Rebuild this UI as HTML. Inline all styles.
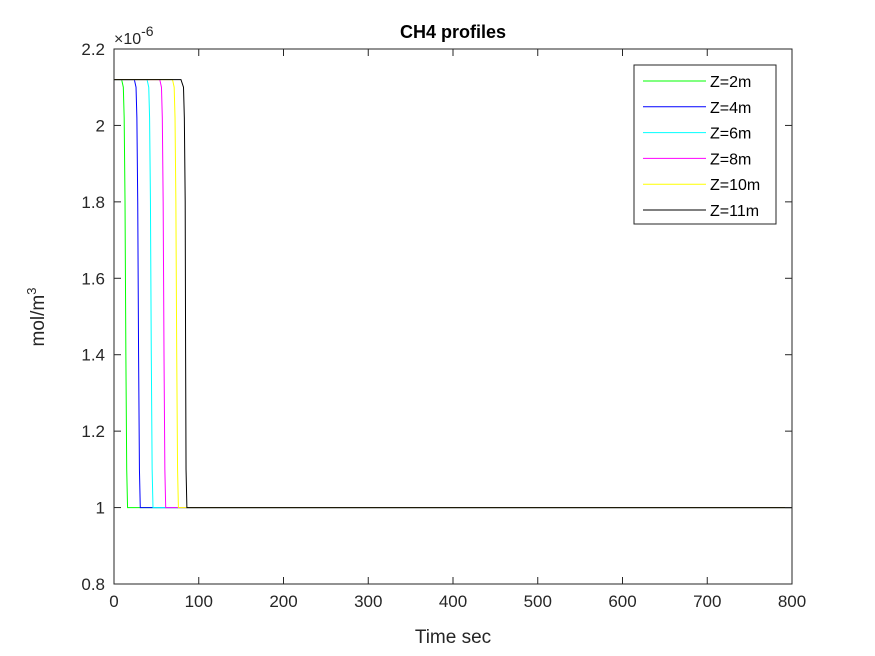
<!DOCTYPE html>
<html><head><meta charset="utf-8"><style>
body{margin:0;background:#fff}
svg{display:block;font-family:"Liberation Sans",sans-serif}
</style></head><body>
<svg width="875" height="656" viewBox="0 0 875 656">
<rect width="875" height="656" fill="#fff"/>
<g id="plot"></g>
<g id="axes"></g>
<text x="453" y="38" font-size="18" font-weight="bold" text-anchor="middle">CH4 profiles</text>
<text x="453" y="643" font-size="19" text-anchor="middle" fill="#262626">Time sec</text>
<text transform="translate(44,317) rotate(-90)" font-size="19" text-anchor="middle" fill="#262626">mol/m<tspan dy="-8" font-size="13">3</tspan></text>
<text x="114" y="44" font-size="16" fill="#262626">×10<tspan dy="-8" font-size="14">-6</tspan></text>
<g id="legend"></g>
</svg>
<script>
const xTicks=[0,100,200,300,400,500,600,700,800];
const yTicks=[0.8,1,1.2,1.4,1.6,1.8,2,2.2];
const yTickLabels=["0.8","1","1.2","1.4","1.6","1.8","2","2.2"];
const seriesNames=["Z=2m","Z=4m","Z=6m","Z=8m","Z=10m","Z=11m"];
const seriesColors=["#00ff00","#0000ff","#00ffff","#ff00ff","#ffff00","#000000"];
const tZ2=[0,9,11,12,13,14,15,16,800];const vZ2=[2.12,2.12,2.1,2.02,1.8,1.4,1.1,1.0,1.0];
const tZ4=[0,24,26,27,28,29,30,31,800];const vZ4=[2.12,2.12,2.1,2.02,1.8,1.4,1.1,1.0,1.0];
const tZ6=[0,39,41,42,43,44,45,46,800];const vZ6=[2.12,2.12,2.1,2.02,1.8,1.4,1.1,1.0,1.0];
const tZ8=[0,54,56,57,58,59,60,61,800];const vZ8=[2.12,2.12,2.1,2.02,1.8,1.4,1.1,1.0,1.0];
const tZ10=[0,69,71,72,73,74,75,76,800];const vZ10=[2.12,2.12,2.1,2.02,1.8,1.4,1.1,1.0,1.0];
const tZ11=[0,79,82,83,84,84.5,85,86,800];const vZ11=[2.12,2.12,2.1,2.02,1.8,1.4,1.1,1.0,1.0];
const seriesT=[tZ2,tZ4,tZ6,tZ8,tZ10,tZ11];
const seriesV=[vZ2,vZ4,vZ6,vZ8,vZ10,vZ11];
const L=114,R=792,T=49,B=584;
const xs=v=>L+(v-0)/800*(R-L);
const ys=v=>B-(v-0.8)/1.4*(B-T);
const NS="http://www.w3.org/2000/svg";
const plot=document.getElementById('plot'),axes=document.getElementById('axes'),leg=document.getElementById('legend');
function mk(tag,attrs,parent){const e=document.createElementNS(NS,tag);for(const k in attrs)e.setAttribute(k,attrs[k]);parent.appendChild(e);return e;}
seriesT.forEach((ts,i)=>{
  const d=ts.map((t,j)=>(j?'L':'M')+xs(t).toFixed(2)+','+ys(seriesV[i][j]).toFixed(2)).join(' ');
  const p=mk('path',{d:d,fill:'none',stroke:seriesColors[i],'stroke-width':1},plot);
  
  
});
const box=mk('rect',{x:L,y:T,width:R-L,height:B-T,fill:'none',stroke:'#262626','stroke-width':1},axes);


xTicks.forEach(v=>{
  const x=xs(v);
  mk('line',{x1:x,x2:x,y1:B,y2:B-7,stroke:'#262626'},axes);
  mk('line',{x1:x,x2:x,y1:T,y2:T+7,stroke:'#262626'},axes);
  const t=mk('text',{x:x,y:B+23,'font-size':17,'text-anchor':'middle',fill:'#262626'},axes);
  t.textContent=v;
  
  
});
yTicks.forEach((v,i)=>{
  const y=ys(v);
  mk('line',{x1:L,x2:L+7,y1:y,y2:y,stroke:'#262626'},axes);
  mk('line',{x1:R,x2:R-7,y1:y,y2:y,stroke:'#262626'},axes);
  const t=mk('text',{x:L-9,y:y+6,'font-size':17,'text-anchor':'end',fill:'#262626'},axes);
  t.textContent=yTickLabels[i];
  
  
});
mk('rect',{x:634,y:65,width:142,height:159,fill:'#fff',stroke:'#262626','stroke-width':1},leg);
seriesNames.forEach((n,i)=>{
  const y=81+i*25.8;
  const g=mk('g',{},leg);
  
  
  mk('line',{x1:643,x2:706,y1:y,y2:y,stroke:seriesColors[i],'stroke-width':1},g);
  const t=mk('text',{x:710,y:y+6,'font-size':16,fill:'#000'},g);
  t.textContent=n;
});
</script>
</body></html>
